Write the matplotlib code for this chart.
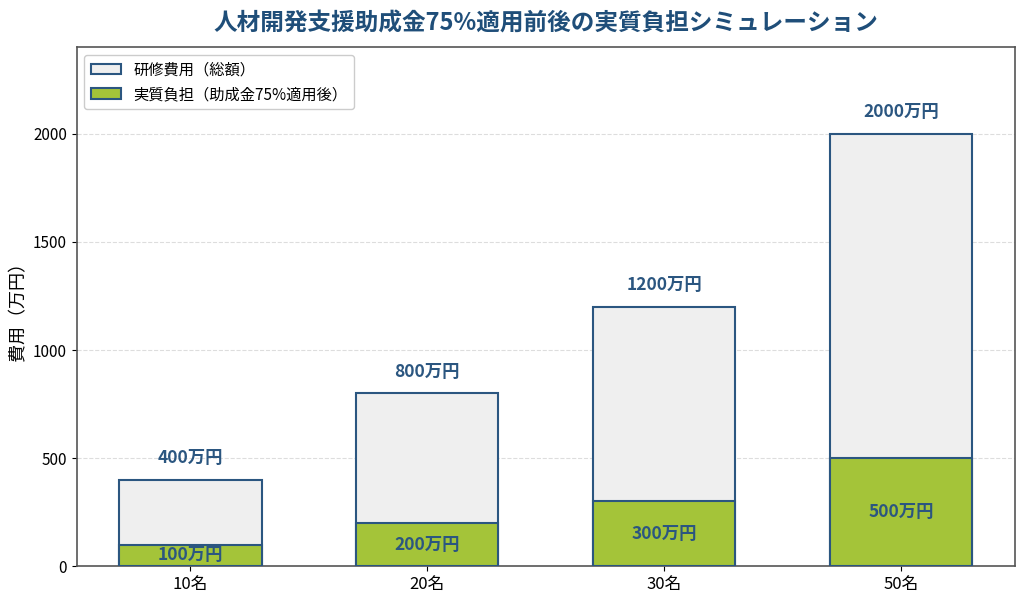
import matplotlib
matplotlib.use("Agg")
import matplotlib.pyplot as plt
import numpy as np

plt.rcParams['font.family'] = ['Noto Sans CJK JP', 'DejaVu Sans']

categories = ["10名", "20名", "30名", "50名"]
total_cost = [400, 800, 1200, 2000]
net_cost = [100, 200, 300, 500]

title_color = "#1f4e79"
edge_color = "#2b5680"
label_color = "#2b5680"

fig, ax = plt.subplots(figsize=(10.24, 6.01), dpi=100)
fig.subplots_adjust(left=0.075, right=0.991, top=0.921, bottom=0.058)

x = np.arange(len(categories))
width = 0.6
ax.bar(x, total_cost, width, color="#efefef", edgecolor=edge_color, linewidth=1.5,
       label="研修費用（総額）", zorder=2)
ax.bar(x, net_cost, width, color="#a4c439", edgecolor=edge_color, linewidth=1.5,
       label="実質負担（助成金75%適用後）", zorder=3)

for xi, t, n in zip(x, total_cost, net_cost):
    ax.text(xi, t + 100, f"{t}万円", ha="center", va="center", fontsize=12.5,
            fontweight="bold", color=label_color)
    ax.text(xi, n / 2, f"{n}万円", ha="center", va="center", fontsize=12.5,
            fontweight="bold", color=label_color, zorder=4)

ax.set_ylim(0, 2400)
ax.set_xticks(x)
ax.set_xticklabels(categories, fontsize=12)
ax.tick_params(axis="y", labelsize=11)
ax.set_yticks([0, 500, 1000, 1500, 2000])
ax.set_ylabel("費用（万円）", fontsize=13)
ax.set_title("人材開発支援助成金75%適用前後の実質負担シミュレーション", fontsize=17,
             fontweight="bold", color=title_color, pad=12)
ax.yaxis.grid(True, linestyle="--", color="#dddddd", linewidth=0.8, zorder=0)
for s in ax.spines.values():
    s.set_color("#555555")
    s.set_linewidth(1.2)

ax.legend(loc="upper left", fontsize=11, framealpha=1, edgecolor="#cccccc")

fig.savefig("out.png", dpi=100)
